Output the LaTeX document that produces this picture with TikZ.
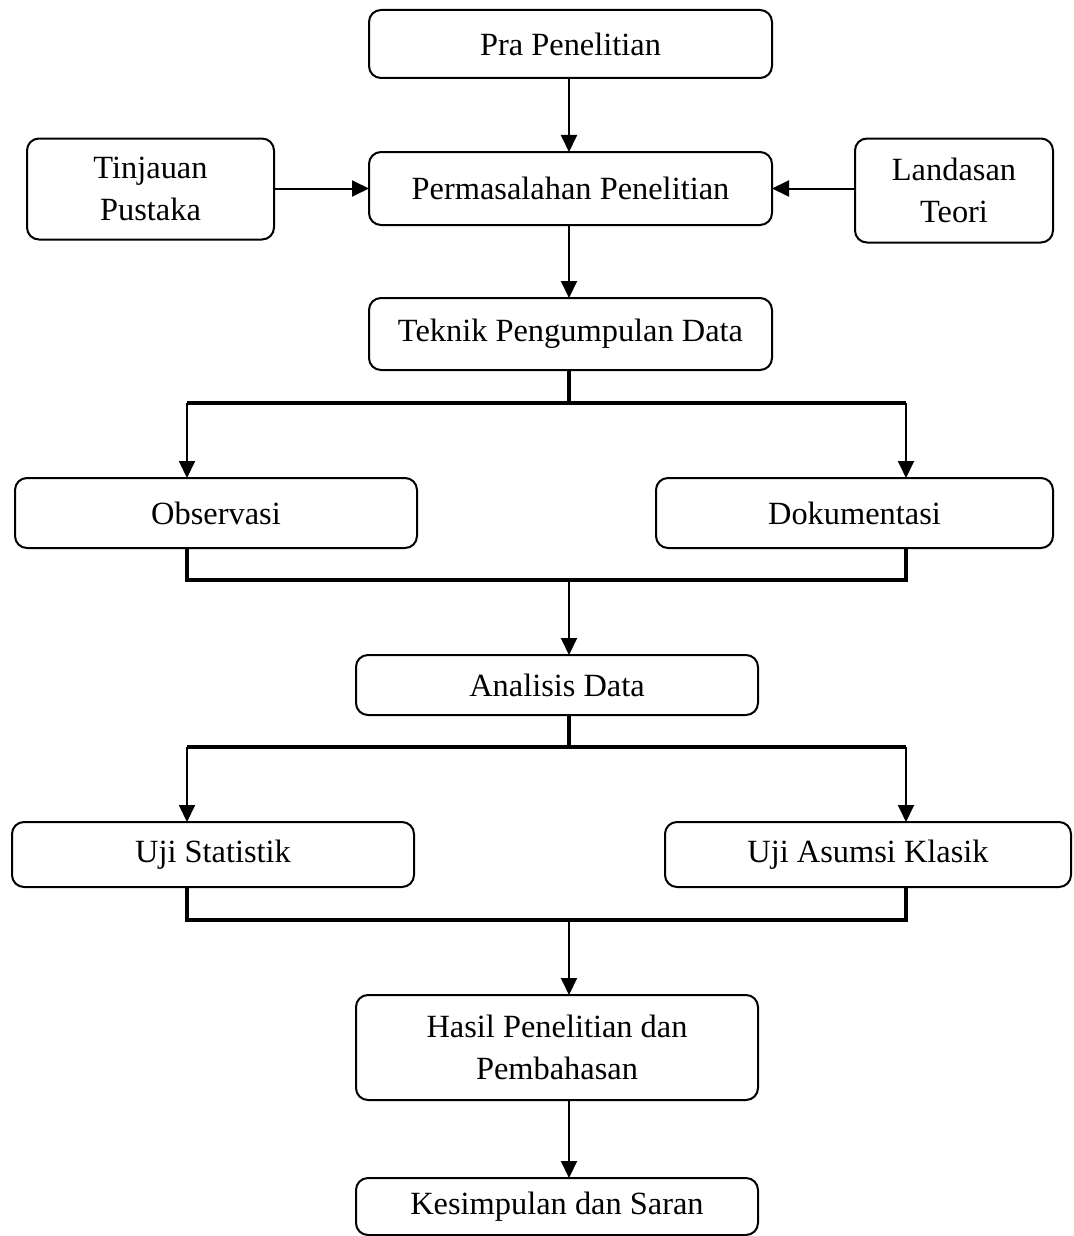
\documentclass[tikz,border=0pt]{standalone}
\usepackage{fontspec}
\setmainfont{Liberation Serif}
\usetikzlibrary{arrows.meta}
\begin{document}
\begin{tikzpicture}[x=0.5pt,y=-0.5pt,
  box/.style={draw, line width=1pt, rounded corners=6pt, inner sep=0pt, outer sep=0pt,
    align=center, font=\fontsize{16.2}{21}\selectfont},
  arr/.style={line width=1pt, -{Triangle[length=8.5pt,width=8pt]}},
  conn/.style={line width=1pt},
  thickconn/.style={line width=1.6pt}]
\useasboundingbox (0,0) rectangle (1073,1236);

\node[box, minimum width=201.5pt, minimum height=34pt]   (pra) at (570.5,44) {Pra Penelitian};
\node[box, minimum width=201.5pt, minimum height=36.5pt] (per) at (570.5,188.5) {Permasalahan Penelitian};
\node[box, minimum width=123.5pt, minimum height=50.5pt] (tin) at (150.5,189) {Tinjauan\\Pustaka};
\node[box, minimum width=99pt, minimum height=52pt]      (lan) at (954,190.5) {Landasan\\Teori};
\node[box, minimum width=201.5pt, minimum height=36pt]   (tek) at (570.5,334) {Teknik Pengumpulan Data};
\node[box, minimum width=201pt, minimum height=35pt]     (obs) at (216,513) {Observasi};
\node[box, minimum width=198.5pt, minimum height=35pt]   (dok) at (854.5,513) {Dokumentasi};
\node[box, minimum width=201pt, minimum height=30pt]     (ana) at (557,685) {Analisis Data};
\node[box, minimum width=201pt, minimum height=32.5pt]   (ujs) at (213,854.5) {Uji Statistik};
\node[box, minimum width=203pt, minimum height=32.5pt]   (uja) at (868,854.5) {Uji Asumsi Klasik};
\node[box, minimum width=201pt, minimum height=52.5pt]   (has) at (557,1047.5) {Hasil Penelitian dan\\Pembahasan};
\node[box, minimum width=201pt, minimum height=28.5pt]   (kes) at (557,1206.5) {Kesimpulan dan Saran};

\coordinate (sp) at (569,0);
\coordinate (b1L) at (187,403);
\coordinate (b1R) at (906,403);
\coordinate (m1L) at (187,580);
\coordinate (m1R) at (906,580);
\coordinate (b2L) at (187,747);
\coordinate (b2R) at (906,747);
\coordinate (m2L) at (187,920);
\coordinate (m2R) at (906,920);

\draw[arr] (pra.south -| sp) -- (per.north -| sp);
\draw[arr] (tin.east |- per.west) -- (per.west);
\draw[arr] (lan.west |- per.east) -- (per.east);
\draw[arr] (per.south -| sp) -- (tek.north -| sp);

\draw[thickconn] (tek.south -| sp) -- (b1L -| sp);
\draw[thickconn] (b1L) -- (b1R);
\draw[arr] (b1L) -- (obs.north -| b1L);
\draw[arr] (b1R) -- (dok.north -| b1R);
\draw[thickconn] (obs.south -| m1L) -- (m1L) -- (m1R) -- (dok.south -| m1R);
\draw[arr] (m1L -| sp) -- (ana.north -| sp);

\draw[thickconn] (ana.south -| sp) -- (b2L -| sp);
\draw[thickconn] (b2L) -- (b2R);
\draw[arr] (b2L) -- (ujs.north -| b2L);
\draw[arr] (b2R) -- (uja.north -| b2R);
\draw[thickconn] (ujs.south -| m2L) -- (m2L) -- (m2R) -- (uja.south -| m2R);
\draw[arr] (m2L -| sp) -- (has.north -| sp);
\draw[arr] (has.south -| sp) -- (kes.north -| sp);
\end{tikzpicture}
\end{document}
